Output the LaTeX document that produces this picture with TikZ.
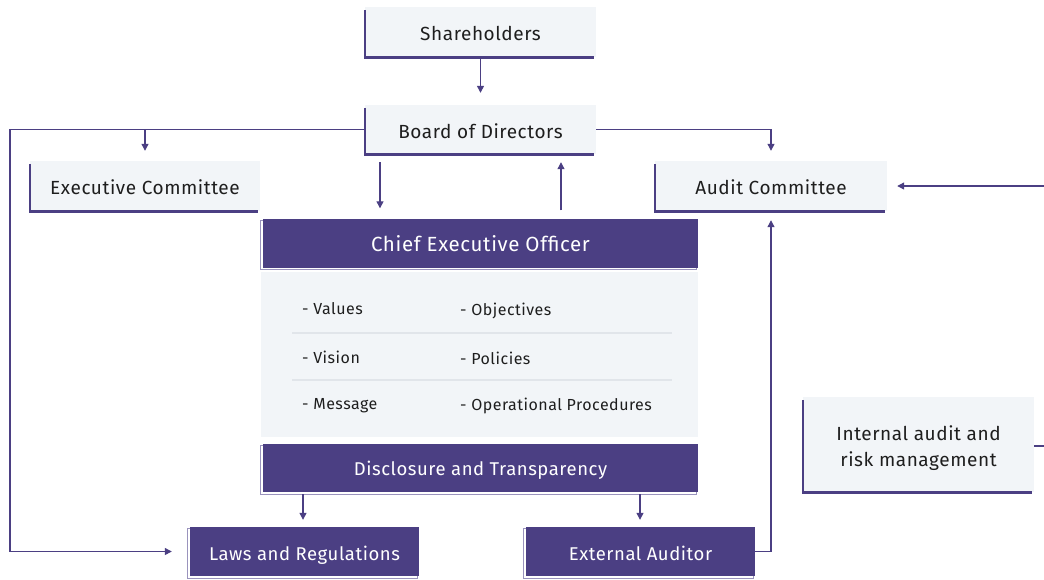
\documentclass[tikz,border=0pt]{standalone}
\usepackage{fontspec}
\setmainfont{Fira Sans}[LetterSpace=3]
\usetikzlibrary{arrows.meta,backgrounds}
\definecolor{pur}{HTML}{4B3F83}
\definecolor{lite}{HTML}{F2F5F8}
\definecolor{sepc}{HTML}{E1E5EA}
\definecolor{outc}{HTML}{9A93BD}
\definecolor{txt}{HTML}{1E1E1E}
\tikzset{
  lightbox/.style={fill=lite, draw=none, inner sep=0pt, text=txt, align=center,
    font=\fontsize{19}{26}\selectfont, text height=18pt, text depth=1pt},
  purbox/.style={fill=pur, draw=none, inner sep=0pt, text=white, align=center,
    font=\fontsize{18.5}{22}\selectfont, text height=18pt, text depth=1pt},
  lborder/.style={draw=pur, line width=2.6pt},
  outl/.style={draw=outc, line width=0.9pt},
  conn/.style={draw=pur, line width=1.2pt},
  arr/.style={-{Triangle[width=7pt,length=7pt]}},
  item/.style={anchor=west, inner sep=0pt, text=txt, font=\fontsize{16}{19}\selectfont},
  sepline/.style={draw=sepc, line width=1.2pt},
}
\begin{document}
\begin{tikzpicture}[x=1pt, y=-1pt]
\useasboundingbox (0,0) rectangle (1044,579);
% light boxes
\node[lightbox, minimum width=231pt, minimum height=50pt] (sh) at (480.5,32) {Shareholders};
\node[lightbox, minimum width=231pt, minimum height=49pt] (bd) at (480.5,129.5) {Board of Directors};
\node[lightbox, minimum width=230pt, minimum height=50pt] (ex) at (145,186) {Executive Committee};
\node[lightbox, minimum width=232pt, minimum height=50pt] (au) at (771,186) {Audit Committee};
\node[lightbox, minimum width=231pt, minimum height=95pt, text height=44pt] (ia) at (918.5,444.5) {Internal audit and\\risk management};
% central block
\node[purbox, minimum width=435pt, minimum height=49pt, font=\fontsize{20.5}{24}\selectfont] (ceo) at (480.5,243) {Chief Executive Officer};
\node[fill=lite, minimum width=437pt, minimum height=165pt, inner sep=0pt] (ct) at (479.5,354.5) {};
\node[purbox, minimum width=435pt, minimum height=48pt, text height=15pt] (ds) at (480.5,468) {Disclosure and Transparency};
\node[purbox, minimum width=229pt, minimum height=49pt] (lw) at (304.5,551.5) {Laws and Regulations};
\node[purbox, minimum width=229pt, minimum height=49pt] (ea) at (640.5,551.5) {External Auditor};
% purple box offset outlines
\begin{scope}[on background layer]
\foreach \n in {ceo,ds,lw,ea}
  \draw[outl] ([shift={(-2pt,-2pt)}]\n.north west) rectangle ([shift={(-2pt,-2pt)}]\n.south east);
\end{scope}
% left/bottom borders of light boxes
\foreach \n in {sh,bd,ex,au,ia}
  \draw[lborder] ([yshift=-3pt]\n.north west) |- ([xshift=-2pt]\n.south east);
% content items
\draw[sepline] (292,333) -- (672,333);
\draw[sepline] (292,380) -- (672,380);
\node[item] (v1) at (302,309) {- Values};
\node[item] (v2) at (460,311) {- Objectives};
\node[item] (v3) at (302,357) {- Vision};
\node[item] (v4) at (460,358) {- Policies};
\node[item] (v5) at (302,406) {- Message};
\node[item] (v6) at (460,406) {- Operational Procedures};
% connectors
\draw[conn,arr] (sh.south) -- ([yshift=12pt]bd.north);
\draw[conn,arr] (bd.west) -| (10,551.5) -- ([xshift=-18pt]lw.west);
\draw[conn,arr] (ex.north |- bd.west) -- ([yshift=10pt]ex.north);
\draw[conn,arr] (bd.east) -| ([yshift=10pt]au.north);
\draw[conn,arr] ([xshift=-100.5pt,yshift=-8pt]bd.south) -- ([xshift=-100.5pt,yshift=10pt]ceo.north);
\draw[conn,arr] ([xshift=80.5pt,yshift=8pt]ceo.north) -- ([xshift=80.5pt,yshift=-8pt]bd.south);
\draw[conn,arr] ([xshift=-177.5pt,yshift=-2pt]ds.south) -- ([xshift=-1.5pt,yshift=7pt]lw.north);
\draw[conn,arr] ([xshift=159.5pt,yshift=-2pt]ds.south) -- ([xshift=-0.5pt,yshift=7pt]ea.north);
\draw[conn,arr] (ea.east) -| ([yshift=-9pt]au.south);
\coordinate (rs) at (1044,446);
\coordinate (rt) at (1044,186);
\draw[conn] (ia.east |- rs) -- (rs);
\draw[conn,arr] (rt) -- ([xshift=10pt]au.east);
\end{tikzpicture}
\end{document}
